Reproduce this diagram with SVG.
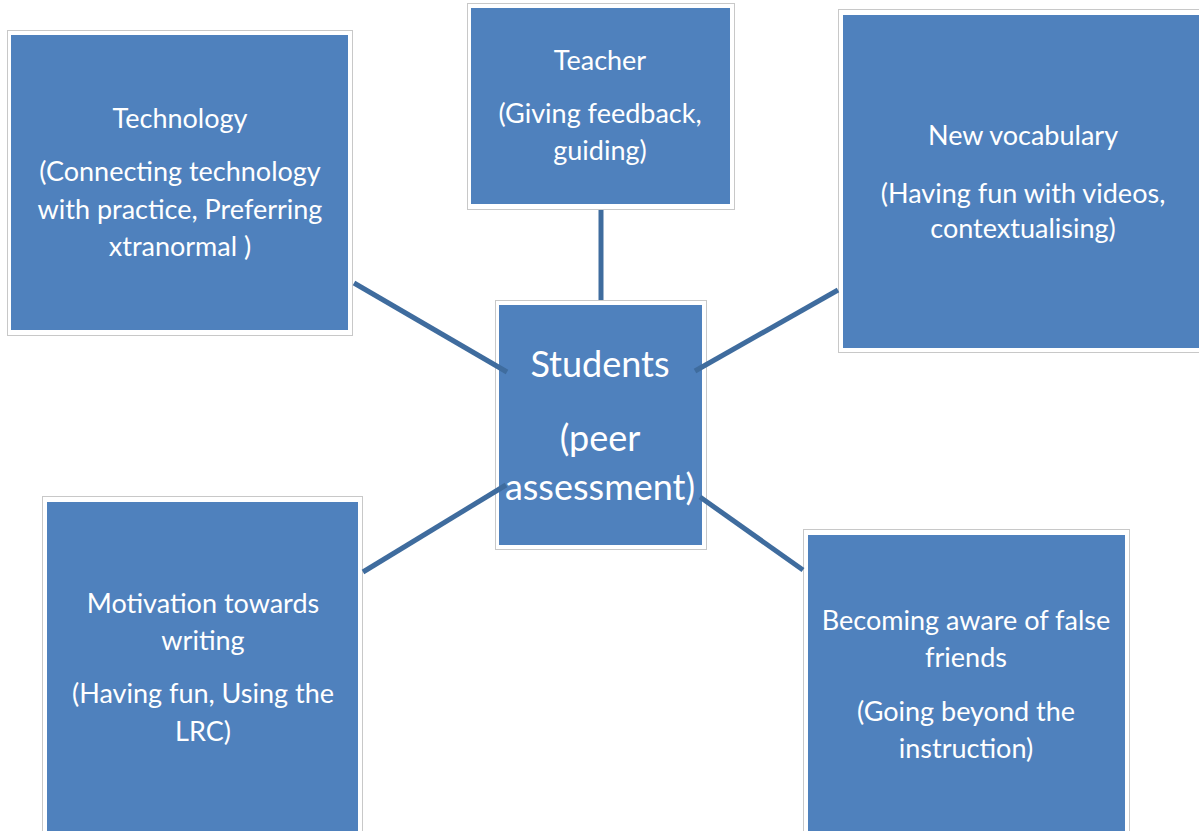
<svg xmlns="http://www.w3.org/2000/svg" width="1199" height="831" viewBox="0 0 1199 831">
<style>
.frame{fill:#ffffff;stroke:#c8c8c8;stroke-width:1}
.box{fill:#4f81bd}
.t{font-family:Lato,"Liberation Sans",sans-serif;fill:#ffffff;text-anchor:middle;font-size:27px}
.big{font-size:36px}
.conn{stroke:#3f6c9e;stroke-width:5;fill:none}
</style>
<rect width="1199" height="831" fill="#ffffff"/>
<g id="technology">
<rect class="frame" x="7.5" y="30.5" width="345" height="305"/>
<rect class="box" x="11" y="35" width="337" height="295"/>
<text class="t" x="180" y="128">Technology</text>
<text class="t" x="180" y="181">(Connecting technology</text>
<text class="t" x="180" y="219">with practice, Preferring</text>
<text class="t" x="180" y="256">xtranormal )</text>
</g>
<g id="teacher">
<rect class="frame" x="467.5" y="3.5" width="267" height="206"/>
<rect class="box" x="471" y="8" width="259" height="196"/>
<text class="t" x="600" y="70">Teacher</text>
<text class="t" x="600" y="123">(Giving feedback,</text>
<text class="t" x="600" y="160">guiding)</text>
</g>
<g id="vocabulary">
<rect class="frame" x="838.5" y="9.5" width="370" height="343"/>
<rect class="box" x="843" y="15" width="366" height="333"/>
<text class="t" x="1023" y="145">New vocabulary</text>
<text class="t" x="1023" y="203">(Having fun with videos,</text>
<text class="t" x="1023" y="238">contextualising)</text>
</g>
<g id="students">
<rect class="frame" x="495.5" y="300.5" width="211" height="249"/>
<rect class="box" x="499" y="305" width="203" height="240"/>
<text class="t big" x="600" y="377">Students</text>
<text class="t big" x="600" y="451">(peer</text>
<text class="t big" x="600" y="500">assessment)</text>
</g>
<g id="motivation">
<rect class="frame" x="42.5" y="496.5" width="320" height="345"/>
<rect class="box" x="47" y="502" width="311" height="340"/>
<text class="t" x="203" y="613">Motivation towards</text>
<text class="t" x="203" y="650">writing</text>
<text class="t" x="203" y="703">(Having fun, Using the</text>
<text class="t" x="203" y="741">LRC)</text>
</g>
<g id="false-friends">
<rect class="frame" x="803.5" y="529.5" width="326" height="312"/>
<rect class="box" x="808" y="535" width="317" height="306"/>
<text class="t" x="966" y="630">Becoming aware of false</text>
<text class="t" x="966" y="667">friends</text>
<text class="t" x="966" y="721">(Going beyond the</text>
<text class="t" x="966" y="758">instruction)</text>
</g>
<g id="connectors">
<line class="conn" x1="601" y1="210" x2="601" y2="300"/>
<line class="conn" x1="354" y1="283" x2="507" y2="372"/>
<line class="conn" x1="838" y1="290" x2="695" y2="371"/>
<line class="conn" x1="363" y1="572" x2="506" y2="485"/>
<line class="conn" x1="700" y1="497" x2="803" y2="570"/>
</g>
</svg>
